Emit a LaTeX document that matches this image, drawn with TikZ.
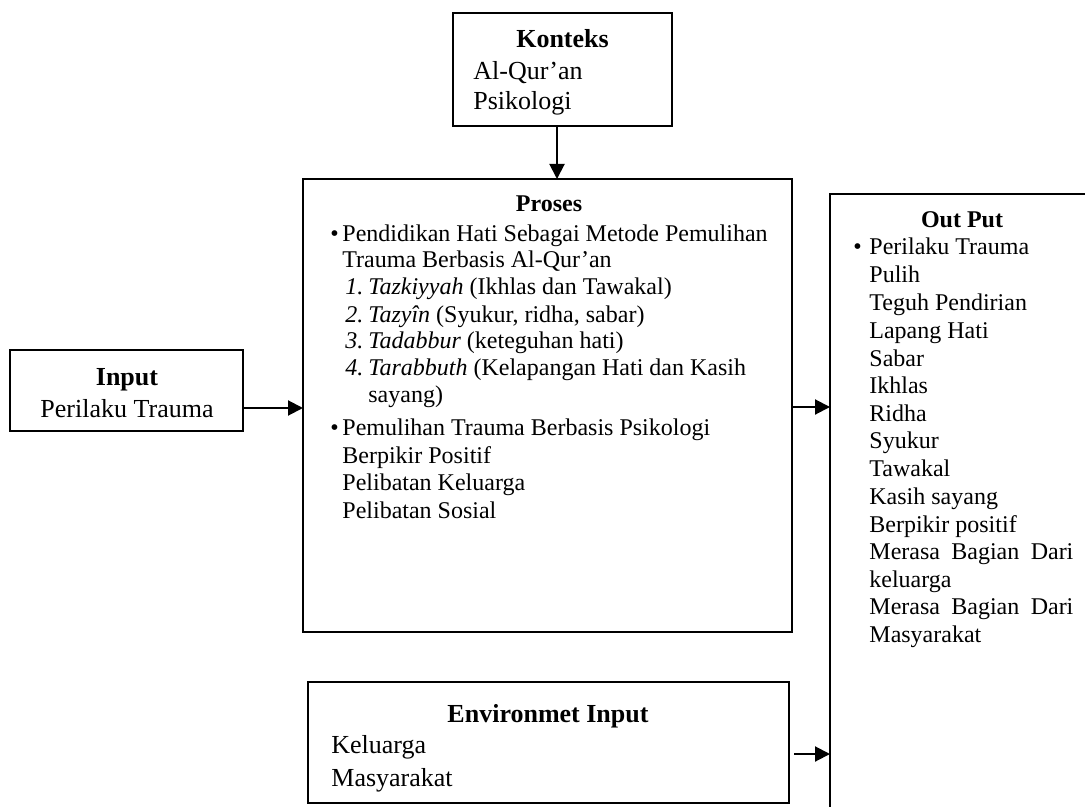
\documentclass[tikz,border=0pt]{standalone}
\usepackage{fontspec}
\setmainfont{Liberation Serif}
\usetikzlibrary{arrows.meta}
\tikzset{
  boxthick/.style={draw, line width=0.9pt, inner sep=0pt, outer sep=0pt},
  boxthin/.style={draw, line width=0.7pt, inner sep=0pt, outer sep=0pt},
  txt/.style={inner sep=0pt, anchor=base west, font=\fontsize{12pt}{13.5pt}\selectfont},
  ttl/.style={inner sep=0pt, anchor=base, font=\fontsize{12pt}{13.5pt}\selectfont\bfseries},
  ctr/.style={inner sep=0pt, anchor=base, font=\fontsize{12pt}{13.5pt}\selectfont},
  big/.style={font=\fontsize{13pt}{15pt}\selectfont},
  bigb/.style={font=\fontsize{13pt}{15pt}\selectfont\bfseries},
  arr/.style={line width=1pt, -{Triangle[length=7.5pt,width=7.5pt]}}
}
\begin{document}
\begin{tikzpicture}[x=0.5pt,y=-0.5pt]
\clip (0,0) rectangle (1085,807);
\fill[white] (0,0) rectangle (1085,807);
% boxes
\node[boxthick, minimum width=109.5pt, minimum height=56.5pt] (konteks) at (562.5,69.5) {};
\node[boxthick, minimum width=244.5pt, minimum height=226.5pt] (proses) at (547.5,405.5) {};
\node[boxthin, minimum width=116.5pt, minimum height=40.5pt] (input) at (126.5,390.5) {};
\node[boxthin, minimum width=240.5pt, minimum height=60.5pt] (env) at (548.5,742.5) {};
\node[boxthick, minimum width=135pt, minimum height=318pt] (output) at (965,512) {};
% Konteks text
\node[ttl, bigb] (kt) at (562.5,48) {Konteks};
\node[txt, big] (k1) at (473,80) {Al-Qur’an};
\node[txt, big] (k2) at (473,110) {Psikologi};
% Input text
\node[ttl, bigb] (it) at (127,385) {Input};
\node[ctr, big] (i1) at (127,417) {Perilaku Trauma};
% Proses text
\node[ttl] (pt) at (549,212) {Proses};
\node[txt] (pb1) at (330,242) {•};
\node[txt] (p1) at (342,242) {Pendidikan Hati Sebagai Metode Pemulihan};
\node[txt] (p2) at (342,268) {Trauma Berbasis Al-Qur’an};
\node[txt] (n1) at (345,295) {\itshape 1.};
\node[txt] (p3) at (368,295) {\textit{Tazkiyyah} (Ikhlas dan Tawakal)};
\node[txt] (n2) at (345,322) {\itshape 2.};
\node[txt] (p4) at (368,322) {\textit{Tazyîn} (Syukur, ridha, sabar)};
\node[txt] (n3) at (345,348) {\itshape 3.};
\node[txt] (p5) at (368,348) {\textit{Tadabbur} (keteguhan hati)};
\node[txt] (n4) at (345,375) {\itshape 4.};
\node[txt] (p6) at (368,375) {\textit{Tarabbuth} (Kelapangan Hati dan Kasih};
\node[txt] (p7) at (368,402) {sayang)};
\node[txt] (pb2) at (330,435) {•};
\node[txt] (p8) at (342,435) {Pemulihan Trauma Berbasis Psikologi};
\node[txt] (p9) at (342,463) {Berpikir Positif};
\node[txt] (p10) at (342,490) {Pelibatan Keluarga};
\node[txt] (p11) at (342,518) {Pelibatan Sosial};
% Out Put text
\node[ttl] (ot) at (962,228) {Out Put};
\node[txt] (ob) at (853,255) {•};
\node[txt] (o1) at (869,255) {Perilaku Trauma};
\node[txt] (o2) at (869,283) {Pulih};
\node[txt] (o3) at (869,311) {Teguh Pendirian};
\node[txt] (o4) at (869,338) {Lapang Hati};
\node[txt] (o5) at (869,366) {Sabar};
\node[txt] (o6) at (869,393) {Ikhlas};
\node[txt] (o7) at (869,421) {Ridha};
\node[txt] (o8) at (869,448) {Syukur};
\node[txt] (o9) at (869,476) {Tawakal};
\node[txt] (o10) at (869,504) {Kasih sayang};
\node[txt] (o11) at (869,532) {Berpikir positif};
\node[txt] (o12) at (869,559) {\makebox[102pt][s]{Merasa Bagian Dari}};
\node[txt] (o13) at (869,587) {keluarga};
\node[txt] (o14) at (869,614) {\makebox[102pt][s]{Merasa Bagian Dari}};
\node[txt] (o15) at (869,642) {Masyarakat};
% Environment text
\node[ttl, bigb] (et) at (548,722) {Environmet Input};
\node[txt, big] (e1) at (331,753) {Keluarga};
\node[txt, big] (e2) at (331,786) {Masyarakat};
% connectors
\coordinate (ya) at (0,408);
\coordinate (yb) at (0,407);
\coordinate (yc) at (0,754);
\draw[arr] ([xshift=-2.75pt]konteks.south) -- ([xshift=-2.75pt]konteks.south |- proses.north);
\draw[arr] (input.east |- ya) -- (proses.west |- ya);
\draw[arr] ([xshift=0.5pt]proses.east |- yb) -- (output.west |- yb);
\draw[arr] ([xshift=2.5pt]env.east |- yc) -- (output.west |- yc);
\end{tikzpicture}
\end{document}
